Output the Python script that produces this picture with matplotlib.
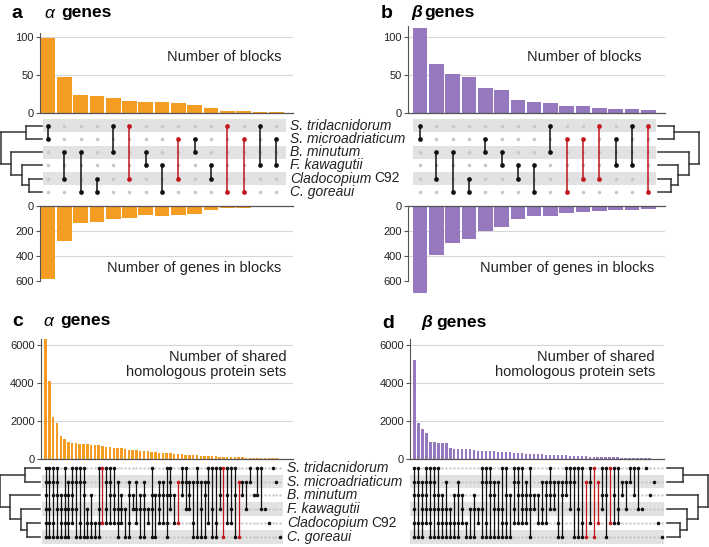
import matplotlib
matplotlib.use("Agg")
import matplotlib.pyplot as plt
import matplotlib.transforms as mtransforms
from matplotlib.patches import Rectangle

plt.rcParams['font.family'] = ['Liberation Sans', 'DejaVu Sans']

# ---- data ----
species = ["S. tridacnidorum", "S. microadriaticum", "B. minutum", "F. kawagutii",
           "Cladocopium", "C. goreaui"]
species_suffix = ["", "", "", "", "C92", ""]

# species tree: (height, left, right), leaves are row indices
tree = (41, (16, 0, 1), (31, 2, (20, 3, (13, 4, 5))))

# Symbiodinium x Cladocopium pairs drawn in red
red_pairs = [{0, 4}, {1, 4}, {0, 5}, {1, 5}]

a_sets = ["01", "24", "25", "45", "02", "04", "23", "35", "14", "12", "34", "05", "15", "03", "13"]
a_blocks = [99, 48, 24, 23, 20, 16, 15, 15, 13, 11, 7, 3, 3, 1, 1]
a_genes = [585, 283, 135, 127, 105, 95, 75, 80, 70, 60, 30, 12, 14, 3, 3]

b_sets = ["01", "24", "25", "45", "12", "23", "34", "35", "02", "15", "14", "04", "13", "03", "05"]
b_blocks = [112, 65, 52, 48, 33, 30, 18, 15, 14, 10, 9, 7, 6, 6, 4]
b_genes = [693, 390, 295, 263, 200, 168, 104, 83, 80, 53, 48, 37, 32, 29, 24]

c_sets = ["012345", "01345", "01245", "01235", "2345", "02345", "12345", "01234", "0135", "0145",
          "0125", "345", "245", "45", "0345", "04", "0134", "0124", "0234", "1345",
          "234", "35", "1245", "23", "134", "235", "1235", "34", "0235", "25",
          "1234", "124", "0245", "0123", "24", "14", "012", "013", "123", "145",
          "015", "135", "125", "014", "035", "045", "023", "05", "024", "034",
          "025", "15", "12", "13", "01", "2", "02", "03", "3", "4",
          "0", "1", "5"]
c_counts = [6300, 4100, 2200, 1900, 1200, 1050, 900, 850, 820, 800,
            790, 780, 760, 740, 720, 700, 650, 620, 600, 580,
            560, 540, 500, 480, 460, 440, 420, 400, 380, 350,
            330, 310, 300, 290, 270, 260, 250, 230, 220, 200,
            190, 180, 170, 160, 150, 140, 130, 120, 110, 100,
            95, 90, 80, 75, 70, 60, 55, 50, 45, 40,
            35, 30, 25]

d_sets = ["012345", "01245", "12345", "01234", "01345", "01235", "02345", "2345", "1345", "345",
          "245", "1245", "234", "45", "35", "235", "34", "0135", "0145", "0125",
          "1235", "135", "0345", "0245", "25", "0134", "0124", "0234", "1234", "0235",
          "23", "24", "134", "124", "0123", "123", "145", "125", "012", "013",
          "015", "035", "045", "15", "014", "05", "14", "023", "025", "04",
          "024", "034", "12", "13", "01", "02", "03", "3", "0", "2",
          "1", "4", "5"]
d_counts = [5200, 1900, 1600, 1400, 900, 890, 880, 870, 860, 580,
            560, 550, 540, 530, 520, 470, 460, 450, 440, 430,
            420, 400, 390, 380, 370, 350, 330, 310, 300, 290,
            280, 270, 260, 250, 240, 230, 220, 210, 200, 190,
            180, 170, 160, 150, 140, 130, 120, 115, 110, 105,
            100, 95, 90, 85, 80, 70, 60, 55, 50, 45,
            40, 35, 30]

orange = "#F59D22"
purple = "#9678BF"
red = "#C0161C"
black = "#111111"
dot_gray = "#C8C8C8"
band_gray = "#E2E2E2"
grid_col = "#D6D6D6"
axis_col = "#555555"
text_col = "#222222"

W, H = 709, 547
fig = plt.figure(figsize=(W / 100, H / 100), dpi=100)


def px_axes(l, t, r, b):
    return fig.add_axes([l / W, 1 - b / H, (r - l) / W, (b - t) / H])


def fxy(x, y):
    return x / W, 1 - y / H


def bar_panel(ax, values, color, width, xlim, ylim, ticks, grids, inverted=False, bound=None):
    ax.bar(range(len(values)), values, width=width, color=color, lw=0, zorder=2)
    ax.set_xlim(*xlim)
    ax.set_ylim(*ylim)
    for g in grids:
        ax.axhline(g, color=grid_col, lw=0.8, zorder=0)
    for s in ax.spines.values():
        s.set_visible(False)
    ax.spines['left'].set_visible(True)
    ax.spines['left'].set_color(axis_col)
    ax.spines['left'].set_linewidth(0.8)
    if bound is not None:
        ax.spines['left'].set_bounds(*bound)
    base = 'top' if inverted else 'bottom'
    ax.spines[base].set_visible(True)
    ax.spines[base].set_color(axis_col)
    ax.spines[base].set_linewidth(0.9)
    ax.set_xticks([])
    ax.set_yticks(ticks)
    ax.tick_params(axis='y', length=3, width=0.8, color=axis_col, labelsize=8,
                   labelcolor=text_col, pad=1.5)


def matrix_panel(ax, sets, xlim, shade_rows, band, ms, gms, lw):
    for r in shade_rows:
        ax.add_patch(Rectangle((band[0], r - 0.5), band[1] - band[0], 1,
                               color=band_gray, lw=0, zorder=0))
    for i, s in enumerate(sets):
        members = [int(ch) for ch in s]
        col = red if set(members) in red_pairs else black
        others = [r for r in range(6) if r not in members]
        ax.plot([i] * len(others), others, 'o', color=dot_gray, ms=gms, mec='none', zorder=1)
        ax.plot([i, i], [min(members), max(members)], color=col, lw=lw, zorder=2,
                solid_capstyle='butt')
        ax.plot([i] * len(members), members, 'o', color=col, ms=ms, mec='none', zorder=3)
    ax.set_xlim(*xlim)
    ax.set_ylim(5.5, -0.5)
    ax.axis('off')


def draw_tree(ax, node):
    if isinstance(node, int):
        return node, 0
    h, left, right = node
    yl, hl = draw_tree(ax, left)
    yr, hr = draw_tree(ax, right)
    kw = dict(color="#333333", lw=1.1, clip_on=False, solid_capstyle='projecting')
    ax.plot([hl, h], [yl, yl], **kw)
    ax.plot([hr, h], [yr, yr], **kw)
    ax.plot([h, h], [yl, yr], **kw)
    return (yl + yr) / 2, h


def tree_panel(ax, xlim):
    draw_tree(ax, tree)
    ax.set_xlim(*xlim)
    ax.set_ylim(5.5, -0.5)
    ax.axis('off')


def species_labels(ax, x_px):
    tr = mtransforms.blended_transform_factory(fig.transFigure, ax.transData)
    for i, (name, suffix) in enumerate(zip(species, species_suffix)):
        t = ax.text(x_px / W, i, name, transform=tr, ha='left', va='center',
                    fontsize=10, fontstyle='italic', color=text_col, clip_on=False)
        if suffix:
            ax.annotate(suffix, xy=(1, 0.5), xycoords=t, xytext=(2.5, 0),
                        textcoords='offset points', ha='left', va='center',
                        fontsize=10, color=text_col)


def title(x_lab, x_greek, x_genes, y, lab, greek, greek_weight):
    fig.text(*fxy(x_lab, y), lab, fontsize=14, fontweight='bold', ha='left', va='center')
    fig.text(*fxy(x_greek, y), greek, fontsize=12.5, fontstyle='italic',
             fontweight=greek_weight, ha='left', va='center')
    fig.text(*fxy(x_genes, y), "genes", fontsize=12.5, fontweight='bold', ha='left',
             va='center')


# ---- panel a ----
a_xlim = (-0.49, 15.03)
ax = px_axes(40, 33.2, 293, 113)
bar_panel(ax, a_blocks, orange, 0.9, a_xlim, (0, 105), [0, 50, 100], [50, 100])
ax.text(0.955, 0.7, "Number of blocks", transform=ax.transAxes, ha='right', va='center',
        fontsize=10.5, color=text_col)
ax_m = px_axes(40, 119.1, 293, 198.3)
matrix_panel(ax_m, a_sets, a_xlim, [0, 2, 4], (-0.33, 14.6), 3.4, 2.6, 1.1)
species_labels(ax_m, 290)
ax = px_axes(40, 206, 293, 281)
bar_panel(ax, a_genes, orange, 0.9, a_xlim, (600, 0), [0, 200, 400, 600], [200, 400],
          inverted=True)
ax.text(0.955, 0.17, "Number of genes in blocks", transform=ax.transAxes, ha='right',
        va='center', fontsize=10.5, color=text_col)
tree_panel(px_axes(0, 119.1, 42, 198.3), (42, 0))
title(11, 44, 61, 13, "a", "\u03b1", 'normal')

# ---- panel b ----
b_xlim = (-0.74, 15.03)
ax = px_axes(408, 25.9, 665, 113.3)
bar_panel(ax, b_blocks, purple, 0.9, b_xlim, (0, 115), [0, 50, 100], [50, 100])
ax.text(0.91, 0.64, "Number of blocks", transform=ax.transAxes, ha='right', va='center',
        fontsize=10.5, color=text_col)
ax_m = px_axes(408, 119.1, 665, 198.3)
matrix_panel(ax_m, b_sets, b_xlim, [0, 2, 4], (-0.45, 14.5), 3.4, 2.6, 1.1)
ax = px_axes(408, 206, 665, 294)
bar_panel(ax, b_genes, purple, 0.9, b_xlim, (700, 0), [0, 200, 400, 600], [200, 400],
          inverted=True, bound=(0, 600))
ax.text(0.96, 0.295, "Number of genes in blocks", transform=ax.transAxes, ha='right',
        va='center', fontsize=10.5, color=text_col)
tree_panel(px_axes(658, 119.1, 709, 198.3), (0, 51))
title(381, 411, 424, 13, "b", "\u03b2", 'bold')

# ---- panel c ----
c_xlim = (-1.24, 65.4)
ax = px_axes(41, 339.3, 293, 459)
bar_panel(ax, c_counts, orange, 0.65, c_xlim, (0, 6300), [0, 2000, 4000, 6000],
          [2000, 4000, 6000])
ax.text(0.975, 0.79, "Number of shared\nhomologous protein sets", transform=ax.transAxes,
        ha='right', va='center', fontsize=10.5, color=text_col, linespacing=1.15,
        multialignment='right')
ax_m = px_axes(41, 460.8, 293, 543.6)
matrix_panel(ax_m, c_sets, c_xlim, [1, 3, 5], (-0.98, 62.8), 2.6, 1.7, 0.9)
species_labels(ax_m, 287)
tree_panel(px_axes(0, 460.8, 40, 543.6), (41.5, 0))
title(12, 43, 60, 321, "c", "\u03b1", 'normal')

# ---- panel d ----
d_xlim = (-1.08, 62.6)
ax = px_axes(410, 339.3, 664, 459.3)
bar_panel(ax, d_counts, purple, 0.65, d_xlim, (0, 6300), [0, 2000, 4000, 6000],
          [2000, 4000, 6000])
ax.text(0.965, 0.79, "Number of shared\nhomologous protein sets", transform=ax.transAxes,
        ha='right', va='center', fontsize=10.5, color=text_col, linespacing=1.15,
        multialignment='right')
ax_m = px_axes(410, 460.8, 664, 543.6)
matrix_panel(ax_m, d_sets, d_xlim, [1, 3, 5], (-1.08, 62.6), 2.6, 1.7, 0.9)
tree_panel(px_axes(666.7, 460.8, 709, 543.6), (0, 42.3))
title(382, 421, 436, 323, "d", "\u03b2", 'bold')

fig.savefig("out.png", dpi=100)
